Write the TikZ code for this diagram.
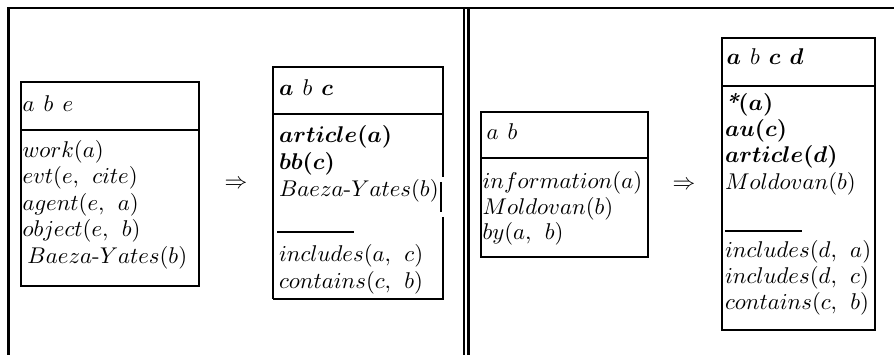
\documentclass[tikz,border=0pt]{standalone}
\usepackage{bm}
% spacing between the variables of a header and after an argument comma
\newcommand{\vgap}{\hskip 4pt}
\newcommand{\cgap}{\hskip 4.2pt}
\begin{document}
\begin{tikzpicture}[x=0.439pt,y=-0.439pt,
  rule/.style={line width=0.88pt, line cap=rect},
  cell/.style={line width=0.88pt},
  row/.style={anchor=base west, inner sep=0pt, outer sep=0pt, font=\normalsize},
  implies/.style={inner sep=0pt, font=\normalsize}]
\useasboundingbox (0,0) rectangle (894,355);

% panel frame: top rule, left rule and the double rule between the panels
\draw[rule] (8.5,356) -- (8.5,8.5) -- (895,8.5);
\draw[rule] (464,8.5) -- (464,356);
\draw[rule] (468.5,8.5) -- (468.5,356);

% ---------- left panel ----------
% query graph
\draw[cell] (21,82) rectangle (199,286);
\draw[cell] (21,130) -- (199,130);
\node[row] (q1h) at (22.5,111.5) {$a\vgap b\vgap e$};
\node[row] (q1r1) at (22.5,157.5) {$work(a)$};
\node[row] (q1r2) at (22.5,184) {$evt(e,\cgap cite)$};
\node[row] (q1r3) at (22.5,210.5) {$agent(e,\cgap a)$};
\node[row] (q1r4) at (22.5,237) {$object(e,\cgap b)$};
\node[row] (q1r5) at (27.5,263.5) {$Baeza$-$Yates(b)$};

\node[implies] (imp1) at (236,184) {$\Rightarrow$};

% rewritten graph
\draw[cell] (273,299) -- (273,67) -- (443,67) -- (443,177);
\draw[cell] (441,182) -- (441,212);
\draw[cell] (443,217) -- (443,299) -- (273,299);
\draw[cell] (273,114) -- (443,114);
\draw[cell] (277,232) -- (354,232);
\node[row] (r1h) at (279,96) {$\bm{a}\vgap b\vgap \bm{c}$};
\node[row] (r1r1) at (279,142.5) {$\bm{article(a)}$};
\node[row] (r1r2) at (279,169.5) {$\bm{bb(c)}$};
\node[row] (r1r3) at (279,196.5) {$Baeza$-$Yates(b)$};
\node[row] (r1r4) at (279,261.5) {$includes(a,\cgap c)$};
\node[row] (r1r5) at (279,288.5) {$contains(c,\cgap b)$};

% ---------- right panel ----------
% query graph
\draw[cell] (481,112) rectangle (648,257);
\draw[cell] (481,158) -- (648,158);
\node[row] (q2h) at (486.5,140) {$a\vgap b$};
\node[row] (q2r1) at (482.5,189) {$information(a)$};
\node[row] (q2r2) at (482.5,214.5) {$Moldovan(b)$};
\node[row] (q2r3) at (482.5,240) {$by(a,\cgap b)$};

\node[implies] (imp2) at (684,185) {$\Rightarrow$};

% rewritten graph
\draw[cell] (722,38) rectangle (875,330);
\draw[cell] (722,86) -- (875,86);
\draw[cell] (725,231) -- (802,231);
\node[row] (r2h) at (726.5,65) {$\bm{a}\vgap b\vgap \bm{c}\vgap \bm{d}$};
\node[row] (r2r1) at (725,111) {{\bfseries\itshape *}$\bm{(a)}$};
\node[row] (r2r2) at (725,136.5) {$\bm{au(c)}$};
\node[row] (r2r3) at (725,163) {$\bm{article(d)}$};
\node[row] (r2r4) at (725,189.5) {$Moldovan(b)$};
\node[row] (r2r5) at (725,258) {$includes(d,\cgap a)$};
\node[row] (r2r6) at (725,284) {$includes(d,\cgap c)$};
\node[row] (r2r7) at (725,310) {$contains(c,\cgap b)$};
\end{tikzpicture}
\end{document}
